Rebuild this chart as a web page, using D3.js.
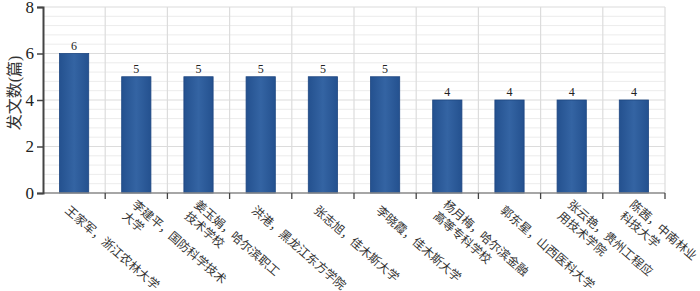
<!DOCTYPE html>
<html>
<head>
<meta charset="utf-8">
<script src="https://cdn.jsdelivr.net/npm/d3@7"></script>
<style>
  body { margin: 0; background: #fff; }
  svg { display: block; }
  text { font-family: "Liberation Serif", "Noto Sans CJK SC", serif; fill: #222; }
</style>
</head>
<body>
<div id="chart"></div>
<script>
// data
const labels = [
  ["王家军，浙江农林大学"],
  ["李建平，国防科学技术", "大学"],
  ["姜玉娟，哈尔滨职工", "技术学校"],
  ["洪港，黑龙江东方学院"],
  ["张志旭，佳木斯大学"],
  ["李晓霞，佳木斯大学"],
  ["杨月梅，哈尔滨金融", "高等专科学校"],
  ["郭东星，山西医科大学"],
  ["张云艳，贵州工程应", "用技术学院"],
  ["陈茜，中南林业", "科技大学"]
];
const counts = [6, 5, 5, 5, 5, 5, 4, 4, 4, 4];
const yTicks = [0, 2, 4, 6, 8];
const yTitle = "发文数(篇)";

const width = 700, height = 291;
const margin = [7, 35, 98, 43]; // top, right, bottom, left

const svg = d3.select('#chart').append('svg')
  .attr('width', width).attr('height', height);

const defs = svg.append('defs');
const grad = defs.append('linearGradient').attr('id', 'barGrad')
  .attr('x1', 0).attr('x2', 1).attr('y1', 0).attr('y2', 0);
grad.append('stop').attr('offset', '0%').attr('stop-color', '#24518f');
grad.append('stop').attr('offset', '50%').attr('stop-color', '#3464a3');
grad.append('stop').attr('offset', '100%').attr('stop-color', '#24518f');

const x = d3.scaleBand()
  .domain(d3.range(counts.length))
  .range([margin[3], width - margin[1]])
  .paddingInner(0.53)
  .paddingOuter(0.265);

const y = d3.scaleLinear()
  .domain([0, 8])
  .range([height - margin[2], margin[0]]);

const step = x.step();
const x0 = x.range()[0], x1 = x.range()[1];

// minor grid
const grid = svg.append('g');
grid.selectAll('.minor')
  .data(d3.range(0, 8.01, 0.4).filter(v => v % 2 > 0.01 && v % 2 < 1.99))
  .join('line')
  .attr('x1', x0).attr('x2', x1)
  .attr('y1', d => y(d)).attr('y2', d => y(d))
  .attr('stroke', '#ececec').attr('stroke-width', 1);

// major grid
grid.selectAll('.major')
  .data(yTicks.slice(1))
  .join('line')
  .attr('x1', x0).attr('x2', x1)
  .attr('y1', d => y(d)).attr('y2', d => y(d))
  .attr('stroke', '#dcdcdc').attr('stroke-width', 1.2);

// vertical grid on category boundaries
grid.selectAll('.vgrid')
  .data(d3.range(1, counts.length + 1))
  .join('line')
  .attr('x1', i => x0 + i * step).attr('x2', i => x0 + i * step)
  .attr('y1', y(8)).attr('y2', y(0))
  .attr('stroke', '#dcdcdc').attr('stroke-width', 1.2);

// bars
svg.append('g').selectAll('rect')
  .data(counts)
  .join('rect')
  .attr('x', (d, i) => x(i))
  .attr('y', d => y(d))
  .attr('width', x.bandwidth())
  .attr('height', d => y(0) - y(d))
  .attr('fill', 'url(#barGrad)')
  .attr('stroke', '#1d4681')
  .attr('stroke-width', 0.8);

// value labels
svg.append('g').selectAll('text')
  .data(counts)
  .join('text')
  .attr('x', (d, i) => x(i) + x.bandwidth() / 2)
  .attr('y', d => y(d) - 4)
  .attr('text-anchor', 'middle')
  .style('font-size', '12px')
  .style('fill', '#222')
  .text(d => d);

// x axis line + ticks
const xa = svg.append('g');
xa.append('line')
  .attr('x1', x0).attr('x2', x1)
  .attr('y1', y(0)).attr('y2', y(0))
  .attr('stroke', '#888').attr('stroke-width', 1.5);
xa.selectAll('.tick')
  .data(d3.range(1, counts.length + 1))
  .join('line')
  .attr('x1', i => x0 + i * step).attr('x2', i => x0 + i * step)
  .attr('y1', y(0)).attr('y2', y(0) + 6)
  .attr('stroke', '#444').attr('stroke-width', 1.3);

// x labels, rotated
const lh = 15;
svg.append('g').selectAll('text')
  .data(labels)
  .join('text')
  .attr('transform', (d, i) => `translate(${x(i) + x.bandwidth() / 2 - 6},207) rotate(41)`)
  .style('font-size', '12px')
  .style('font-family', '"Noto Sans CJK SC", sans-serif')
  .style('fill', '#333')
  .attr('dominant-baseline', 'central')
  .each(function(d) {
    d3.select(this).selectAll('tspan')
      .data(d)
      .join('tspan')
      .attr('x', 0)
      .attr('y', (t, j) => (j - (d.length - 1) / 2) * lh)
      .text(t => t);
  });

// y axis
const yAxis = d3.axisLeft(y).tickValues(yTicks).tickSize(6).tickPadding(3).tickFormat(d3.format('d'));
const ya = svg.append('g')
  .attr('transform', `translate(${margin[3]},0)`)
  .call(yAxis);
ya.select('.domain').attr('stroke', '#444').attr('stroke-width', 2);
ya.selectAll('.tick line').attr('stroke', '#444').attr('stroke-width', 1.5);
ya.selectAll('.tick text')
  .style('font-size', '17px')
  .style('font-family', '"Liberation Serif", serif')
  .attr('fill', '#222');

// y title
svg.append('text')
  .attr('transform', `translate(14,${(y(0) + y(8)) / 2 - 7}) rotate(-90)`)
  .attr('text-anchor', 'middle')
  .attr('dominant-baseline', 'central')
  .style('font-size', '16px')
  .style('fill', '#333')
  .text(yTitle);
</script>
</body>
</html>
